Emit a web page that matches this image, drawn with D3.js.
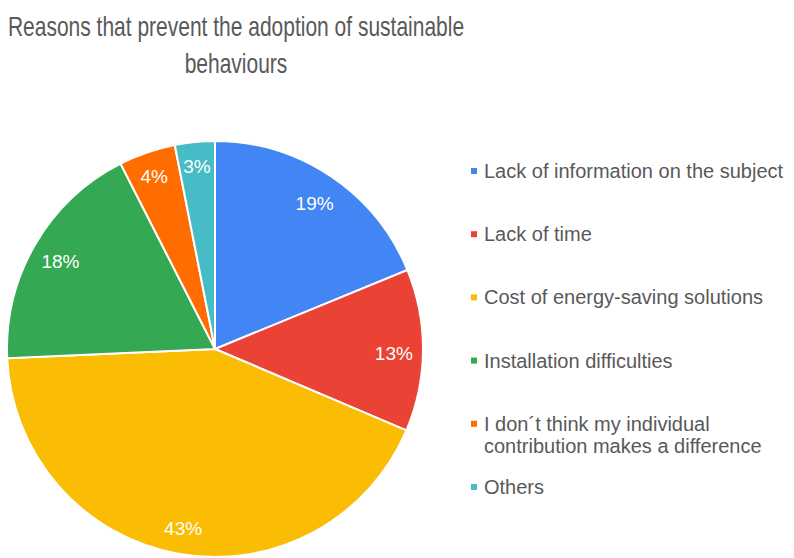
<!DOCTYPE html>
<html>
<head>
<meta charset="utf-8">
<script src="https://cdn.jsdelivr.net/npm/d3@7"></script>
<style>
  body { margin: 0; background: #fff; }
  svg { display: block; font-family: "Liberation Sans", Arial, sans-serif; }
</style>
</head>
<body>
<div id="chart"></div>
<script>
// données
const categories = [
  "Lack of information on the subject",
  "Lack of time",
  "Cost of energy-saving solutions",
  "Installation difficulties",
  "I don´t think my individual contribution makes a difference",
  "Others"
];
const values = [18.8, 12.6, 42.9, 18.2, 4.4, 3.1];
const legendLines = [
  ["Lack of information on the subject"],
  ["Lack of time"],
  ["Cost of energy-saving solutions"],
  ["Installation difficulties"],
  ["I don´t think my individual", "contribution makes a difference"],
  ["Others"]
];
const colors = ["#4285F4", "#EA4335", "#FBBC04", "#34A853", "#FF6D01", "#46BDC6"];
const titleLines = ["Reasons that prevent the adoption of sustainable", "behaviours"];

const width = 794;
const height = 558;
const cx = 215, cy = 349, radius = 208;

const svg = d3.select("#chart")
    .append("svg")
    .attr("width", width)
    .attr("height", height);

// titre (police condensée dans l'original)
const title = svg.append("g")
    .attr("transform", "translate(236,0) scale(0.75,1)");
title.selectAll("text")
    .data(titleLines)
    .join("text")
    .attr("x", 0)
    .attr("y", (d, i) => 36 + i * 37)
    .attr("text-anchor", "middle")
    .attr("font-size", 28)
    .attr("fill", "#595959")
    .text(d => d);

const total = d3.sum(values);
const pie = d3.pie().sort(null).value(d => d);
const arc = d3.arc().innerRadius(0).outerRadius(radius);

const g = svg.append("g")
    .attr("transform", "translate(" + cx + "," + cy + ")");

const slices = pie(values);

g.selectAll("path")
    .data(slices)
    .join("path")
    .attr("d", arc)
    .attr("fill", (d, i) => colors[i])
    .attr("stroke", "#fff")
    .attr("stroke-width", 2);

g.selectAll("text")
    .data(slices)
    .join("text")
    .attr("transform", d => {
        const r = d.data / total < 0.05 ? radius * 0.895 : radius * 0.86;
        const c = d3.arc().innerRadius(r).outerRadius(r).centroid(d);
        return "translate(" + c + ")";
    })
    .attr("dy", "0.5em")
    .attr("text-anchor", "middle")
    .attr("font-size", 19)
    .attr("fill", "#fff")
    .text(d => Math.round(d.data / total * 100) + "%");

// légende
const legendY = d3.scaleLinear().domain([0, categories.length - 1]).range([171, 487]);
const legend = svg.append("g");
const item = legend.selectAll("g")
    .data(categories)
    .join("g")
    .attr("transform", (d, i) => "translate(471," + legendY(i) + ")");

item.append("rect")
    .attr("x", 0)
    .attr("y", -3)
    .attr("width", 6)
    .attr("height", 6)
    .attr("fill", (d, i) => colors[i]);

item.append("text")
    .attr("x", 13)
    .attr("font-size", 20)
    .attr("fill", "#595959")
    .selectAll("tspan")
    .data((d, i) => legendLines[i])
    .join("tspan")
    .attr("x", 13)
    .attr("y", (d, i) => 7 + i * 22)
    .text(d => d);
</script>
</body>
</html>
